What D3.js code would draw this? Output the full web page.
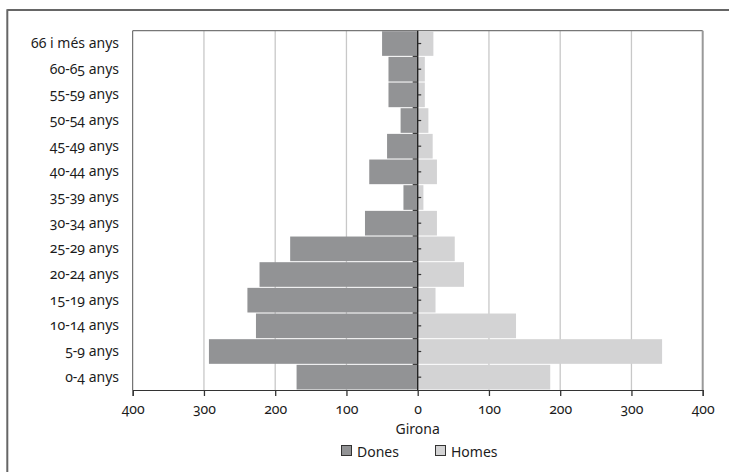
<!DOCTYPE html>
<html>
<head>
<meta charset="utf-8">
<script src="https://cdn.jsdelivr.net/npm/d3@7"></script>
<style>
  html, body { margin: 0; padding: 0; background: #fff; }
  svg { display: block; }
  text { font-family: "Noto Sans", sans-serif; font-variant-numeric: oldstyle-nums; fill: #1c1c1c; }
</style>
</head>
<body>
<svg id="chart" width="729" height="472"></svg>
<script>
const categories = ["66 i més anys","60-65 anys","55-59 anys","50-54 anys","45-49 anys","40-44 anys","35-39 anys","30-34 anys","25-29 anys","20-24 anys","15-19 anys","10-14 anys","5-9 anys","0-4 anys"];
const dones = [50, 41, 41, 24, 43, 68, 20, 74, 179, 222, 239, 227, 293, 170];
const homes = [22, 10, 10, 15, 21, 27, 8, 27, 52, 65, 25, 138, 343, 186];
const xTicks = [-400, -300, -200, -100, 0, 100, 200, 300, 400];
const seriesNames = ["Dones", "Homes"];
const xTitle = "Girona";

const svg = d3.select("#chart");
const pL = 132.7, pR = 702.7, pT = 30.7, pB = 390;
const x = d3.scaleLinear().domain([-400, 400]).range([pL, pR]);
const y = d3.scaleBand().domain(categories).range([pT, pB]).paddingInner(0.04).paddingOuter(0.02);
const colD = "#929395", colH = "#d3d3d4";
const fs = 14;

// outer frame
svg.append("line").attr("x1", 7.3).attr("x2", 729).attr("y1", 10).attr("y2", 10).attr("stroke", "#333").attr("stroke-width", 1.4);
svg.append("line").attr("x1", 7.3).attr("x2", 7.3).attr("y1", 9.3).attr("y2", 472).attr("stroke", "#666").attr("stroke-width", 2);

// gridlines
svg.append("g").selectAll("line").data(xTicks.filter(d => d !== 0 && Math.abs(d) !== 400)).join("line")
  .attr("x1", d => x(d)).attr("x2", d => x(d)).attr("y1", pT).attr("y2", pB)
  .attr("stroke", "#c8c8c8").attr("stroke-width", 1.3);

// plot border
svg.append("line").attr("x1", pL).attr("x2", pR).attr("y1", pT).attr("y2", pT).attr("stroke", "#777").attr("stroke-width", 1.2);
svg.append("line").attr("x1", pL).attr("x2", pL).attr("y1", pT).attr("y2", pB).attr("stroke", "#555").attr("stroke-width", 1);
svg.append("line").attr("x1", pR).attr("x2", pR).attr("y1", pT).attr("y2", pB).attr("stroke", "#999").attr("stroke-width", 2);

// bars
svg.append("g").selectAll("rect").data(categories).join("rect")
  .attr("x", (d, i) => x(-dones[i])).attr("width", (d, i) => x(0) - x(-dones[i]))
  .attr("y", d => y(d)).attr("height", y.bandwidth()).attr("fill", colD);
svg.append("g").selectAll("rect").data(categories).join("rect")
  .attr("x", x(0)).attr("width", (d, i) => x(homes[i]) - x(0))
  .attr("y", d => y(d)).attr("height", y.bandwidth()).attr("fill", colH);

// bottom axis
const xAxis = d3.axisBottom(x).tickValues(xTicks).tickFormat(d => Math.abs(d)).tickSize(6).tickPadding(8);
const gx = svg.append("g").attr("transform", `translate(0,${pB})`).call(xAxis);
gx.select(".domain").attr("stroke", "#333").attr("stroke-width", 1.2);
gx.selectAll(".tick line").attr("stroke", "#333").attr("stroke-width", 1.3);
gx.selectAll(".tick text").attr("font-size", fs).attr("fill", "#1c1c1c").style("font-family", "Noto Sans");

// zero axis line with ticks
const zx = x(0);
svg.append("line").attr("x1", zx).attr("x2", zx).attr("y1", pT).attr("y2", pB).attr("stroke", "#222").attr("stroke-width", 1.4);
svg.append("g").selectAll("line").data(categories).join("line")
  .attr("x1", zx).attr("x2", zx + 3.5)
  .attr("y1", d => y(d) + y.bandwidth() / 2).attr("y2", d => y(d) + y.bandwidth() / 2)
  .attr("stroke", "#333").attr("stroke-width", 1.2);
svg.append("g").selectAll("line").data(categories.slice(1)).join("line")
  .attr("x1", zx - 5).attr("x2", zx)
  .attr("y1", d => y(d) - y.step() * y.paddingInner() / 2).attr("y2", d => y(d) - y.step() * y.paddingInner() / 2)
  .attr("stroke", "#333").attr("stroke-width", 1.2);

// category labels
svg.append("g").selectAll("text").data(categories).join("text")
  .attr("x", 119).attr("y", d => y(d) + y.bandwidth() / 2 + 4.5)
  .attr("text-anchor", "end").attr("font-size", fs).text(d => d);

// x title
svg.append("text").attr("x", zx).attr("y", 434).attr("text-anchor", "middle").attr("font-size", fs).text(xTitle);

// legend
const legX = [341, 435];
const legCols = [colD, colH];
seriesNames.forEach((name, i) => {
  svg.append("rect").attr("x", legX[i] + 0.5).attr("y", 445.5).attr("width", 10).attr("height", 10)
    .attr("fill", legCols[i]).attr("stroke", "#333").attr("stroke-width", 1);
  svg.append("text").attr("x", legX[i] + 16).attr("y", 457).attr("font-size", fs).text(name);
});
</script>
</body>
</html>
